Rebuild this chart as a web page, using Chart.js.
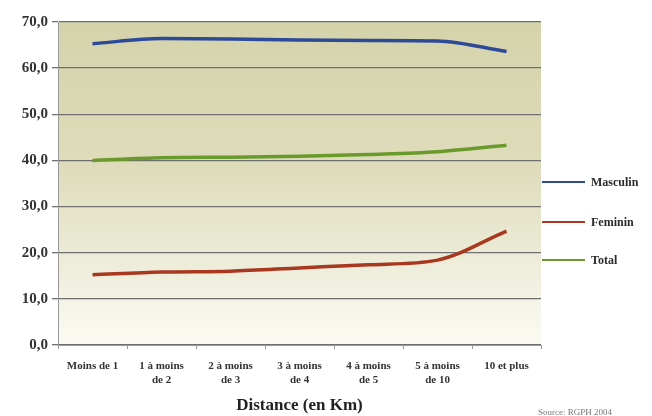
<!DOCTYPE html>
<html>
<head>
    <title>Distance</title>
    <script src="https://cdn.jsdelivr.net/npm/chart.js"></script>
    <style>
        body { margin: 0; background: #fff; }
        #wrap { width: 652px; height: 416px; }
    </style>
</head>
<body>
    <div id="wrap"><canvas id="distChart" width="652" height="416"></canvas></div>

    <script>
        const categories = [
            ['Moins de 1'],
            ['1 à moins', 'de 2'],
            ['2 à moins', 'de 3'],
            ['3 à moins', 'de 4'],
            ['4 à moins', 'de 5'],
            ['5 à moins', 'de 10'],
            ['10 et plus']
        ];
        const masculin = [65.3, 66.4, 66.3, 66.1, 66.0, 65.9, 63.6];
        const feminin = [15.2, 15.8, 16.0, 16.7, 17.4, 18.4, 24.7];
        const total = [40.0, 40.6, 40.7, 40.9, 41.3, 41.9, 43.3];

        const serif = "'Liberation Serif', 'DejaVu Serif', serif";

        // plot background gradient + custom legend + source note
        const decor = {
            id: 'decor',
            beforeDraw(chart) {
                const { ctx, chartArea: a } = chart;
                const g = ctx.createLinearGradient(0, a.top, 0, a.bottom);
                g.addColorStop(0, '#d5d3ab');
                g.addColorStop(0.45, '#dedcbb');
                g.addColorStop(1, '#fbfbf4');
                ctx.save();
                ctx.fillStyle = g;
                ctx.fillRect(a.left, a.top, a.right - a.left, a.bottom - a.top);
                ctx.restore();
            },
            afterDraw(chart) {
                const { ctx, chartArea: a } = chart;
                const ys = [182, 222, 260];
                ctx.save();
                chart.data.datasets.forEach((ds, i) => {
                    ctx.strokeStyle = ds.borderColor;
                    ctx.lineWidth = 2;
                    ctx.beginPath();
                    ctx.moveTo(a.right + 1, ys[i]);
                    ctx.lineTo(a.right + 44, ys[i]);
                    ctx.stroke();
                    ctx.fillStyle = '#2a2a2a';
                    ctx.font = 'bold 12px ' + serif;
                    ctx.textBaseline = 'middle';
                    ctx.fillText(ds.label, a.right + 50, ys[i] + 1);
                });
                ctx.fillStyle = '#777';
                ctx.font = '9px ' + serif;
                ctx.textBaseline = 'alphabetic';
                ctx.fillText('Source: RGPH 2004', 538, 415);
                ctx.restore();
            }
        };

        const ctx = document.getElementById('distChart').getContext('2d');
        new Chart(ctx, {
            type: 'line',
            data: {
                labels: categories,
                datasets: [
                    { label: 'Masculin', data: masculin, borderColor: '#2d4a98' },
                    { label: 'Feminin', data: feminin, borderColor: '#a8391f' },
                    { label: 'Total', data: total, borderColor: '#6a9a2b' }
                ].map(d => Object.assign(d, {
                    borderWidth: 3.5,
                    pointRadius: 0,
                    tension: 0.4,
                    cubicInterpolationMode: 'monotone',
                    fill: false
                }))
            },
            options: {
                responsive: false,
                animation: false,
                layout: { padding: { left: 0, right: 111, top: 22, bottom: 0 } },
                plugins: {
                    legend: { display: false },
                    tooltip: { enabled: false }
                },
                scales: {
                    x: {
                        offset: true,
                        grid: {
                            offset: true,
                            drawOnChartArea: false,
                            drawTicks: true,
                            tickLength: 4,
                            color: '#999'
                        },
                        border: { color: '#999', width: 1 },
                        ticks: {
                            color: '#333',
                            font: { family: serif, size: 11, weight: 'bold' },
                            maxRotation: 0,
                            autoSkip: false,
                            padding: 11
                        },
                        title: {
                            display: true,
                            text: 'Distance (en Km)',
                            color: '#222',
                            font: { family: serif, size: 17, weight: 'bold' },
                            padding: { top: 5, bottom: 0 }
                        },
                        afterFit(scale) { scale.height = 71; }
                    },
                    y: {
                        min: 0,
                        max: 70,
                        ticks: {
                            stepSize: 10,
                            color: '#333',
                            font: { family: serif, size: 15, weight: 'bold' },
                            padding: 4,
                            callback: v => v.toFixed(1).replace('.', ',')
                        },
                        grid: {
                            color: '#6f6f6f',
                            lineWidth: 1.3,
                            tickLength: 6
                        },
                        border: { color: '#999', width: 1 },
                        afterFit(scale) { scale.width = 58; }
                    }
                }
            },
            plugins: [decor]
        });
    </script>
</body>
</html>
